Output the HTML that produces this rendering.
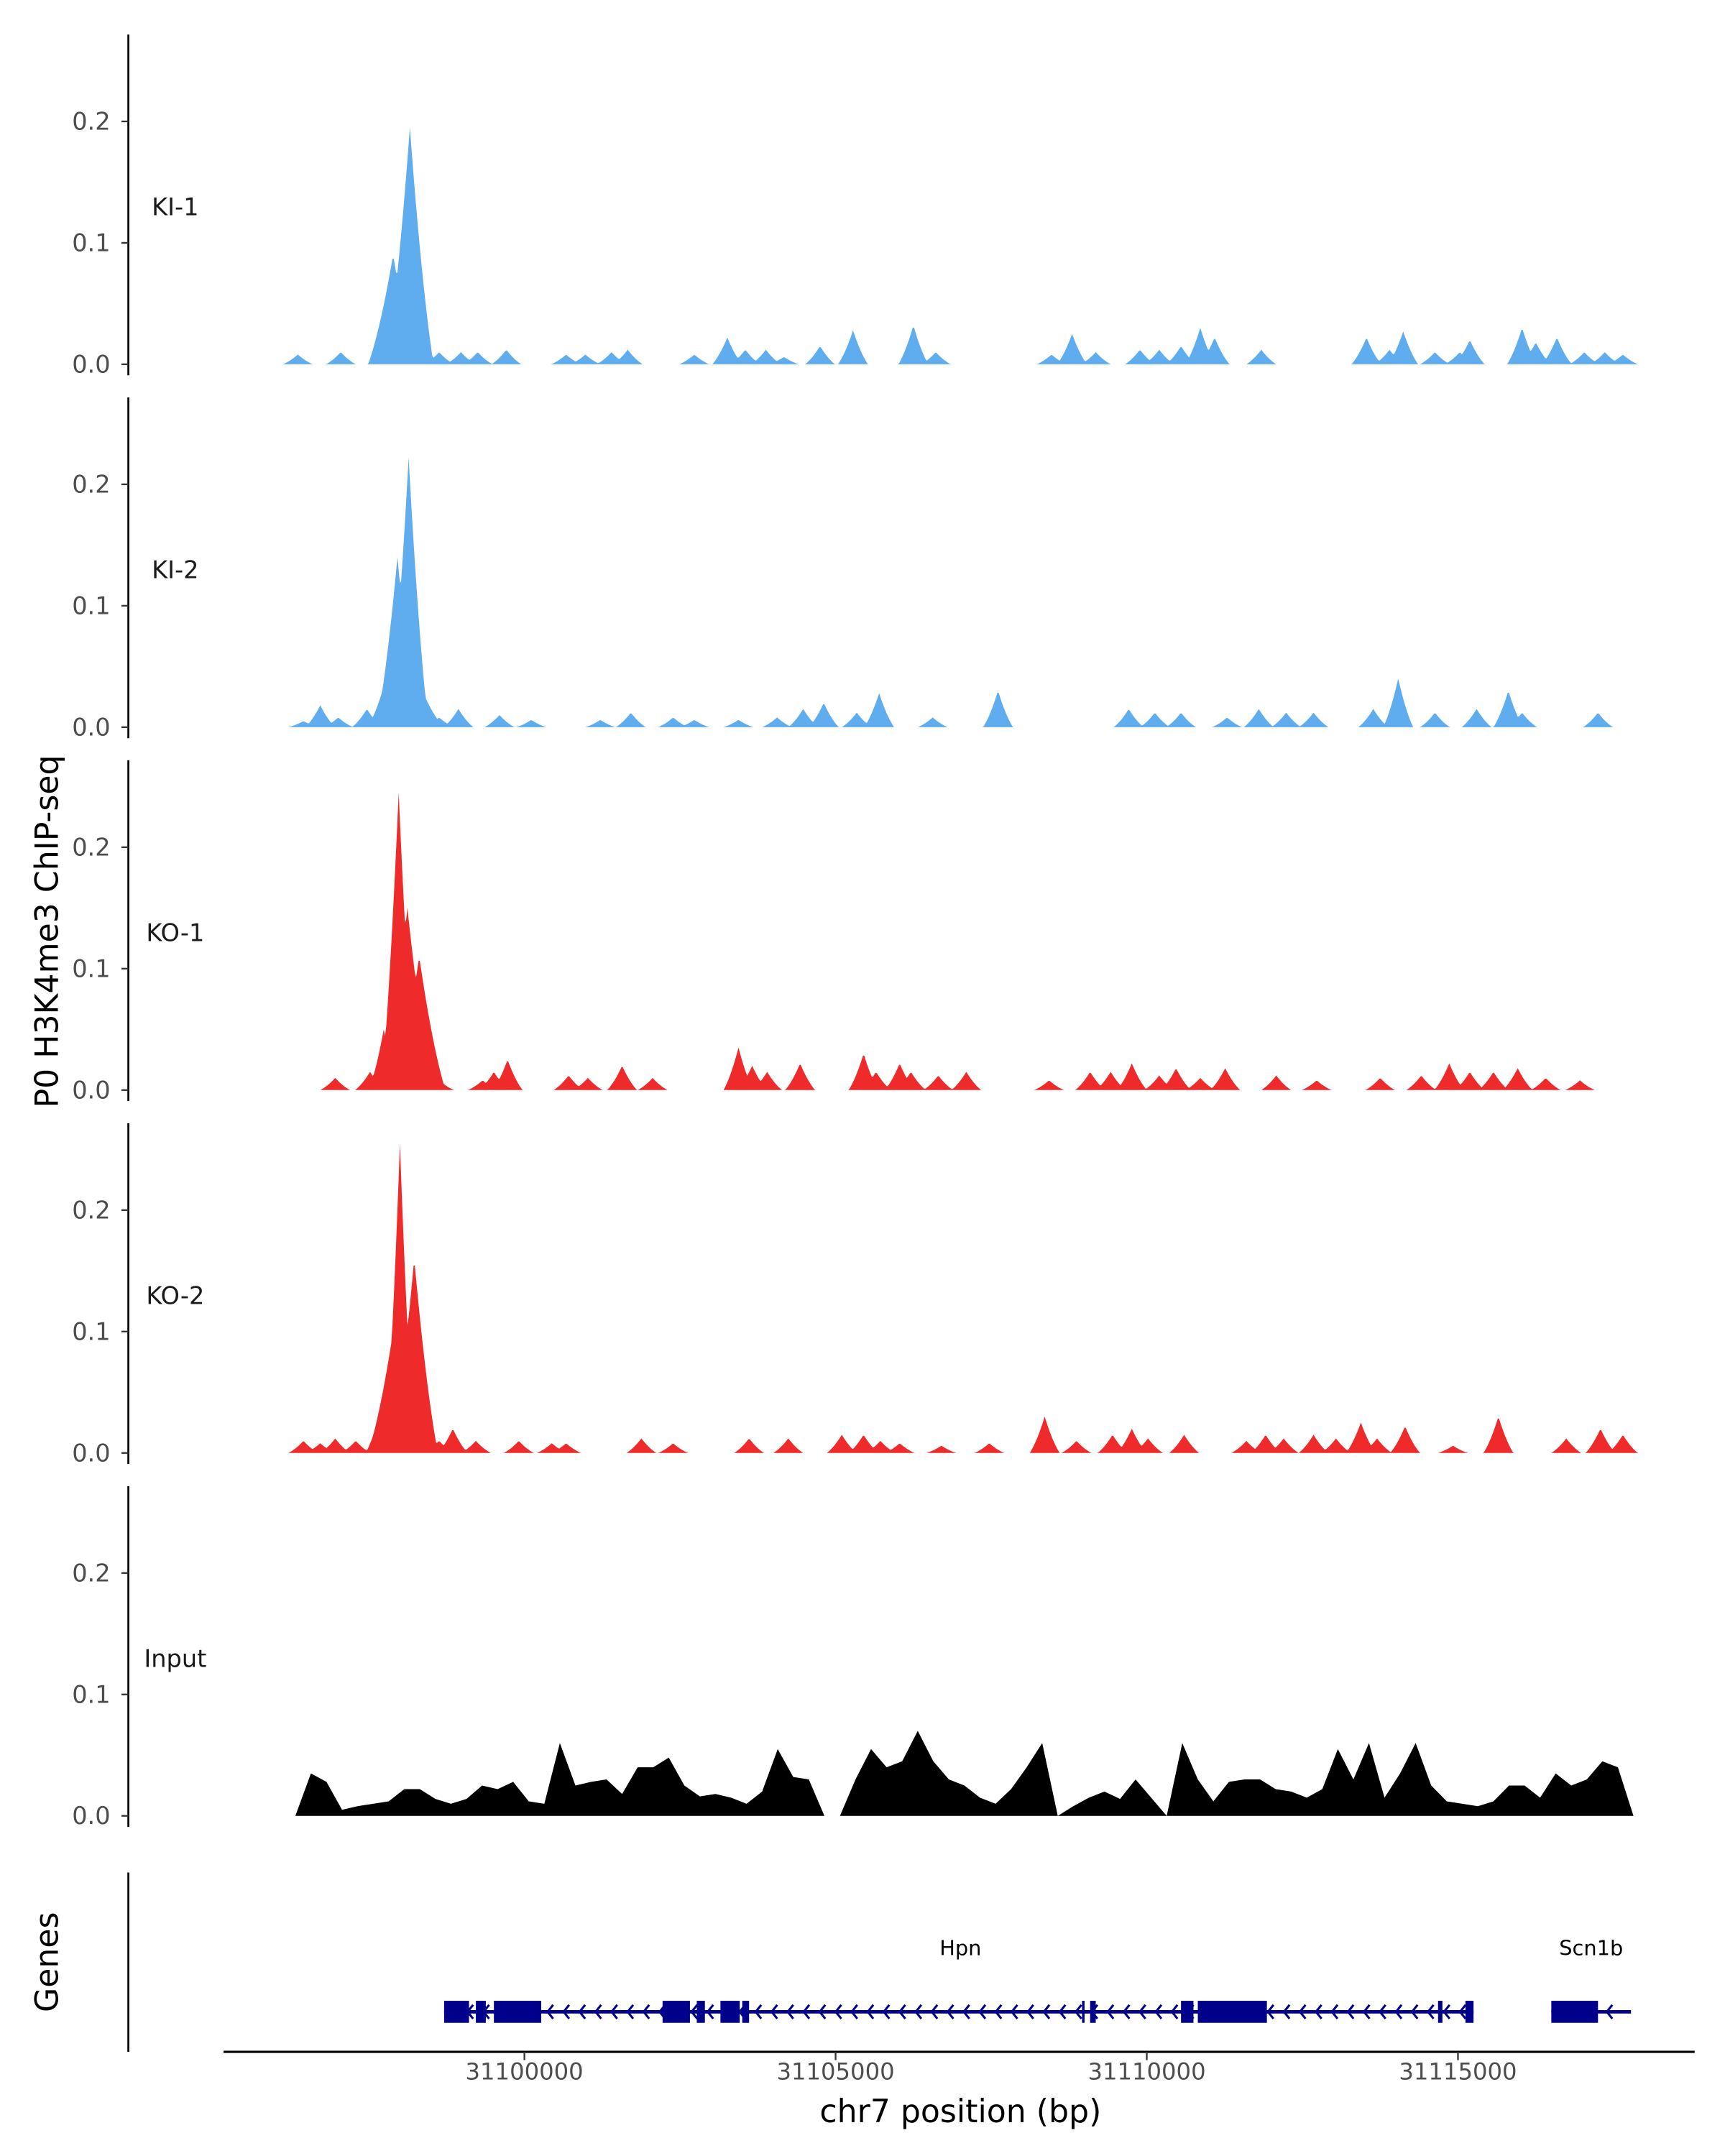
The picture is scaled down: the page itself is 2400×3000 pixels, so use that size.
<!DOCTYPE html>
<html><head><meta charset="utf-8"><style>
html,body{margin:0;padding:0;background:#fff}
svg{display:block}
text{font-family:"DejaVu Sans","Liberation Sans",sans-serif}
</style></head><body>
<svg id="chart" width="2400" height="3000" viewBox="0 0 1250 1562.5" xmlns="http://www.w3.org/2000/svg"></svg>
<script>
// positions in kb relative to chr7:31,100,000
const ki1Pos=[-3.64,-2.95,-2.11,-1.84,-1.37,-1.02,-0.75,-0.29,0.67,0.98,1.40,1.66,2.73,3.26,3.55,3.88,4.17,4.75,5.28,6.25,6.61,8.47,8.80,9.18,9.89,10.2,10.55,10.86,11.09,11.84,13.53,13.9,14.12,14.63,15.03,15.19,16.03,16.25,16.59,17.03,17.36,17.65];
const ki1Val=[.008,.01,.09,.195,.01,.01,.01,.012,.008,.008,.01,.012,.008,.022,.012,.012,.006,.015,.028,.032,.01,.008,.025,.01,.012,.012,.015,.03,.022,.012,.022,.012,.027,.01,.01,.02,.03,.018,.022,.01,.01,.008];
const ki2Pos=[-3.55,-3.28,-2.99,-2.53,-2.28,-2.04,-1.86,-1.64,-1.37,-1.06,-0.4,0.11,1.22,1.71,2.39,2.73,3.44,4.06,4.48,4.81,5.34,5.70,6.56,7.61,9.71,10.13,10.55,11.29,11.80,12.24,12.68,13.64,14.04,14.63,15.30,15.81,16.03,17.25];
const ki2Val=[.005,.018,.008,.015,.03,.14,.222,.03,.008,.015,.01,.006,.006,.012,.008,.006,.006,.008,.015,.02,.012,.028,.008,.03,.015,.012,.012,.008,.015,.012,.012,.015,.04,.012,.015,.03,.012,.012];
const ko1Pos=[-3.04,-2.48,-2.26,-2.02,-1.88,-1.69,-1.37,-0.67,-0.49,-0.27,0.71,1.02,1.57,2.06,3.44,3.66,3.90,4.43,5.45,5.65,6.03,6.21,6.65,7.10,8.43,9.09,9.42,9.76,10.2,10.47,10.86,11.26,12.08,12.73,13.75,14.41,14.86,15.19,15.57,15.96,16.41,16.96];
const ko1Val=[.01,.015,.05,.245,.15,.11,.008,.008,.015,.025,.012,.01,.02,.01,.035,.02,.015,.022,.03,.015,.022,.015,.012,.015,.008,.015,.015,.022,.012,.018,.01,.018,.012,.008,.01,.012,.022,.015,.015,.018,.01,.008];
const ko2Pos=[-3.55,-3.28,-3.04,-2.71,-2.31,-2.11,-2.0,-1.77,-1.62,-1.37,-1.15,-0.78,-0.09,0.44,0.67,1.88,2.39,3.61,4.24,5.10,5.45,5.72,6.03,6.70,7.47,8.36,8.87,9.45,9.76,10.02,10.60,11.60,11.91,12.20,12.68,13.04,13.44,13.70,14.15,14.92,15.65,16.74,17.29,17.65];
const ko2Val=[.01,.008,.012,.01,.035,.1,.255,.16,.05,.01,.02,.01,.01,.008,.008,.012,.008,.012,.012,.015,.015,.01,.008,.006,.008,.03,.01,.015,.02,.012,.015,.01,.015,.012,.015,.012,.025,.012,.022,.006,.03,.012,.02,.015];
const inputStart=-3.68, inputStep=0.25;
const inputVal=[0,.035,.028,.005,.008,.01,.012,.022,.022,.014,.01,.014,.025,.022,.028,.012,.01,.06,.025,.028,.03,.018,.04,.04,.048,.025,.016,.018,.015,.01,.02,.055,.032,.03,0,0,.03,.055,.04,.045,.07,.045,.03,.025,.015,.01,.022,.04,.06,0,.008,.015,.02,.014,.03,.015,0,.06,.03,.012,.028,.03,.03,.022,.02,.015,.022,.055,.03,.06,.015,.035,.06,.025,.012,.01,.008,.012,.025,.025,.015,.035,.025,.03,.045,.04,0];
const xTicks=[31100000,31105000,31110000,31115000];
const yTicks=[0,0.1,0.2];
const trackNames=["KI-1","KI-2","KO-1","KO-2","Input"];
const exonStart=[-1.29,-0.78,-0.49,2.22,2.77,3.15,3.50,8.96,9.09,10.55,10.82,14.68,15.12,16.5];
const exonEnd=[-0.89,-0.62,0.27,2.66,2.90,3.46,3.61,9.0,9.18,10.75,11.93,14.75,15.25,17.25];
const genes=["Hpn","Scn1b"], geneStart=[-1.29,16.5], geneEnd=[15.25,17.78];

const NS="http://www.w3.org/2000/svg";
const svg=document.getElementById('chart');
function el(t,a,p){const e=document.createElementNS(NS,t);for(const k in a)e.setAttribute(k,a[k]);(p||svg).appendChild(e);return e;}
const X=kb=>380+kb*45.1;
const Xbp=bp=>X((bp-31100000)/1000);
const wide={"-2.11":.4,"-1.84":.38,"-2.04":.34,"-1.86":.32,"-1.64":.34,"-2.02":.28,"-1.88":.42,"-1.69":.42,"-2.0":.28,"-1.77":.38};
function peakSignal(pos,val,kb){let m=0;for(let i=0;i<pos.length;i++){const w=wide[String(pos[i])]||0.24;const d=Math.abs(kb-pos[i]);if(d<w){const t=d/w;m=Math.max(m,val[i]*(1-t)*(1-t*0.35));}}return m;}
const tracks=[
 {pos:ki1Pos,val:ki1Val,col:"#5FADEE"},{pos:ki2Pos,val:ki2Val,col:"#5FADEE"},
 {pos:ko1Pos,val:ko1Val,col:"#EE2A2A"},{pos:ko2Pos,val:ko2Val,col:"#EE2A2A"},{val:inputVal,col:"#000"}];
tracks.forEach((t,k)=>{
 const z=264+k*263;
 const Y=v=>z-v*880;
 const g=el('g',{});
 
 
 const ax=el('line',{x1:93,x2:93,y1:z-239,y2:z+8,stroke:'#000','stroke-width':1.4},g);
 
 yTicks.forEach(v=>{
  el('line',{x1:88,x2:93,y1:Y(v),y2:Y(v),stroke:'#333','stroke-width':1.2},g);
  const tx=el('text',{x:80,y:Y(v)+6,'text-anchor':'end','font-size':17.5,fill:'#4d4d4d'},g);tx.textContent=v.toFixed(1);
  
 });
 const lb=el('text',{x:127,y:z-108,'text-anchor':'middle','font-size':17.5,fill:'#1a1a1a'},g);lb.textContent=trackNames[k];
 
 let d;
 if(t.pos){
  let pts=[];for(let kb=-3.9;kb<=17.9;kb+=0.02){const v=peakSignal(t.pos,t.val,kb);pts.push(X(kb).toFixed(2)+','+Y(v).toFixed(2));}
  d='M'+X(-3.9)+','+z+' L'+pts.join(' L')+' L'+X(17.9)+','+z+'Z';
 } else {
  let pts=t.val.map((v,i)=>X(inputStart+i*inputStep).toFixed(2)+','+Y(v).toFixed(2));
  d='M'+X(inputStart)+','+z+' L'+pts.join(' L')+' L'+X(inputStart+(t.val.length-1)*inputStep)+','+z+'Z';
 }
 const a=el('path',{d:d,fill:t.col},g);
 
});
const yt=el('text',{x:0,y:0,transform:'translate(42,675) rotate(-90)','text-anchor':'middle','font-size':23,fill:'#000'});yt.textContent='P0 H3K4me3 ChIP-seq';

const gl=el('line',{x1:93,x2:93,y1:1357,y2:1487,stroke:'#000','stroke-width':1.4});

const gt=el('text',{x:0,y:0,transform:'translate(42,1422) rotate(-90)','text-anchor':'middle','font-size':23,fill:'#000'});gt.textContent='Genes';

const gc='#00008B';
genes.forEach((n,i)=>{
 const ln=el('line',{x1:X(geneStart[i]),x2:X(geneEnd[i]),y1:1458,y2:1458,stroke:gc,'stroke-width':2.5});
 
 for(let x=X(geneStart[i])+18;x<X(geneEnd[i])-6;x+=11.6){el('path',{d:`M${x+3},${1453} L${x-1},${1458} L${x+3},${1463}`,fill:'none',stroke:gc,'stroke-width':1.6});}
 const tx=el('text',{x:i==0?696:1153,y:1417,'text-anchor':'middle','font-size':15,fill:'#000'});tx.textContent=n;
 
});
exonStart.forEach((s,i)=>{
 const r=el('rect',{x:X(s),y:1450,width:Math.max(1.5,X(exonEnd[i])-X(s)),height:16,fill:gc});
 
});
const xa=el('line',{x1:162,x2:1228,y1:1487,y2:1487,stroke:'#000','stroke-width':1.6});

xTicks.forEach(b=>{
 el('line',{x1:Xbp(b),x2:Xbp(b),y1:1487,y2:1493,stroke:'#333','stroke-width':1.2});
 const tx=el('text',{x:Xbp(b),y:1507,'text-anchor':'middle','font-size':16.8,fill:'#4d4d4d'});tx.textContent=b;
 
});
const xt=el('text',{x:696,y:1538,'text-anchor':'middle','font-size':23,fill:'#000'});xt.textContent='chr7 position (bp)';

</script>
</body></html>
